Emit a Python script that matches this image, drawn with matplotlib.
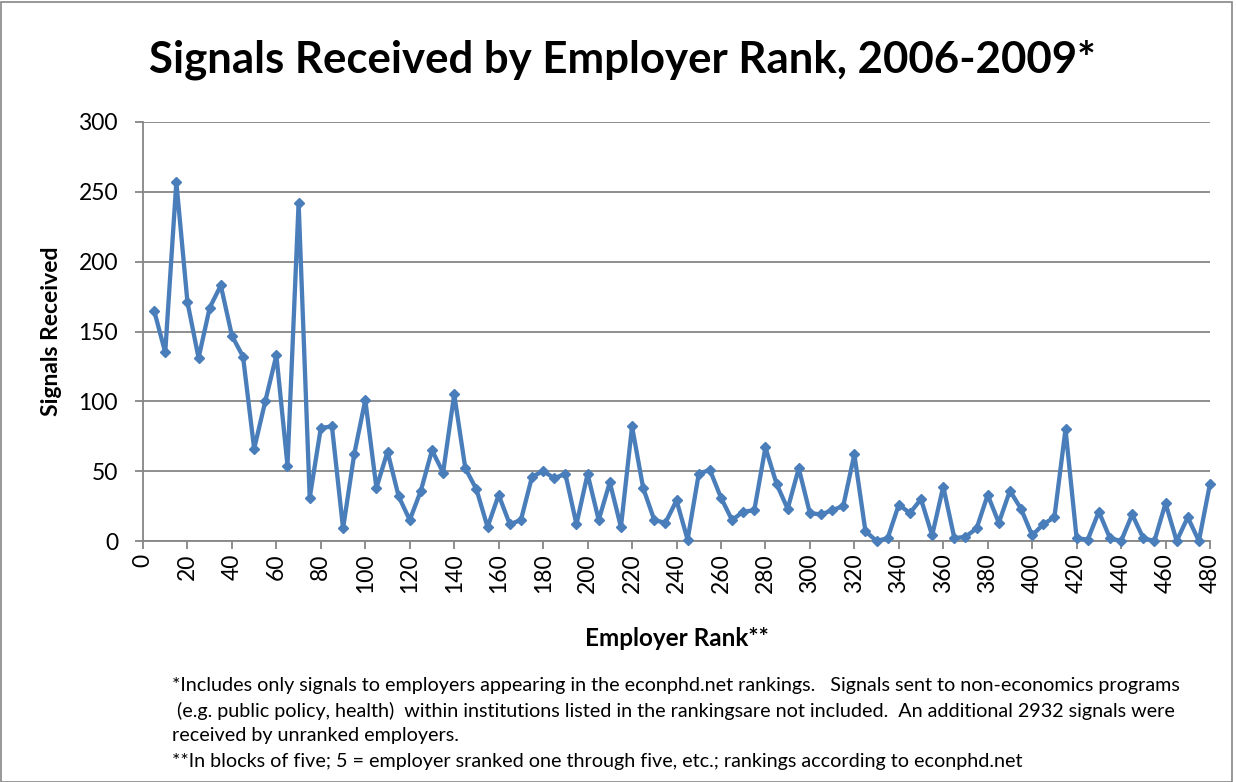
import matplotlib
matplotlib.use("Agg")
import matplotlib.pyplot as plt
from matplotlib.patches import Rectangle

ranks = list(range(5, 485, 5))
signals = [165, 135, 257, 171, 131, 167, 183, 147, 132, 66,
           100, 133, 54, 242, 31, 81, 82, 9, 62, 101,
           38, 64, 32, 15, 36, 65, 49, 105, 52, 37,
           10, 33, 12, 15, 46, 50, 45, 48, 12, 48,
           15, 42, 10, 82, 38, 15, 13, 29, 1, 48,
           51, 31, 15, 21, 22, 67, 41, 23, 52, 20,
           19, 22, 25, 62, 7, 0, 2, 26, 20, 30,
           4, 39, 2, 3, 9, 33, 13, 36, 23, 4,
           12, 17, 80, 2, 1, 21, 2, 0, 19, 2,
           0, 27, 0, 17, 0, 41]
x_ticks = list(range(0, 481, 20))
y_ticks = list(range(0, 301, 50))

title = "Signals Received by Employer Rank, 2006-2009*"
x_label = "Employer Rank**"
y_label = "Signals Received"
footnote_lines = [
    "*Includes only signals to employers appearing in the econphd.net rankings.   Signals sent to non-economics programs",
    " (e.g. public policy, health)  within institutions listed in the rankingsare not included.  An additional 2932 signals were",
    "received by unranked employers.",
    "**In blocks of five; 5 = employer sranked one through five, etc.; rankings according to econphd.net",
]

plt.rcParams['font.family'] = ['Lato', 'DejaVu Sans']

W, H = 1236, 782
fig = plt.figure(figsize=(W / 100, H / 100), dpi=100)
ax = fig.add_axes([143 / W, 1 - 541 / H, (1210 - 143) / W, (541 - 122) / H])

ax.plot(ranks, signals, color='#4A7EBB', lw=3.1, marker='D', ms=5.5,
        markerfacecolor='#4A7EBB', markeredgecolor='#4A7EBB', zorder=3,
        clip_on=False)

ax.set_xlim(0, 480)
ax.set_ylim(0, 300)
ax.set_xticks(x_ticks)
ax.set_yticks(y_ticks)
ax.set_xticklabels([str(t) for t in x_ticks], rotation=90, fontsize=16.5)
ax.set_yticklabels([str(t) for t in y_ticks], fontsize=16.5)
ax.grid(axis='y', color='#868686', lw=1.3)
ax.set_axisbelow(True)
for s in ['top', 'right']:
    ax.spines[s].set_visible(False)
for s in ['left', 'bottom']:
    ax.spines[s].set_color('#868686')
    ax.spines[s].set_linewidth(1.3)
ax.tick_params(axis='both', colors='#868686', labelcolor='black', length=6, width=1.3)
ax.tick_params(axis='y', pad=12)
ax.tick_params(axis='x', pad=3)

ax.set_xlabel(x_label, fontsize=17.5, fontweight='bold', labelpad=24)
ax.set_ylabel(y_label, fontsize=16.5, fontweight='bold', labelpad=12)

fig.text(622 / W, 1 - 60 / H, title, fontsize=31.5, fontweight='bold',
         ha='center', va='center')

ys = [686, 711, 736, 762]
for line, yy in zip(footnote_lines, ys):
    fig.text(172 / W, 1 - yy / H, line, fontsize=14.2, ha='left', va='center')

fig.patches.append(Rectangle((1 / W, 0), (1232 - 1) / W, 1 - 2 / H,
                             transform=fig.transFigure, fill=False,
                             edgecolor='#868686', lw=1.2))

fig.savefig('out.png', dpi=100)
